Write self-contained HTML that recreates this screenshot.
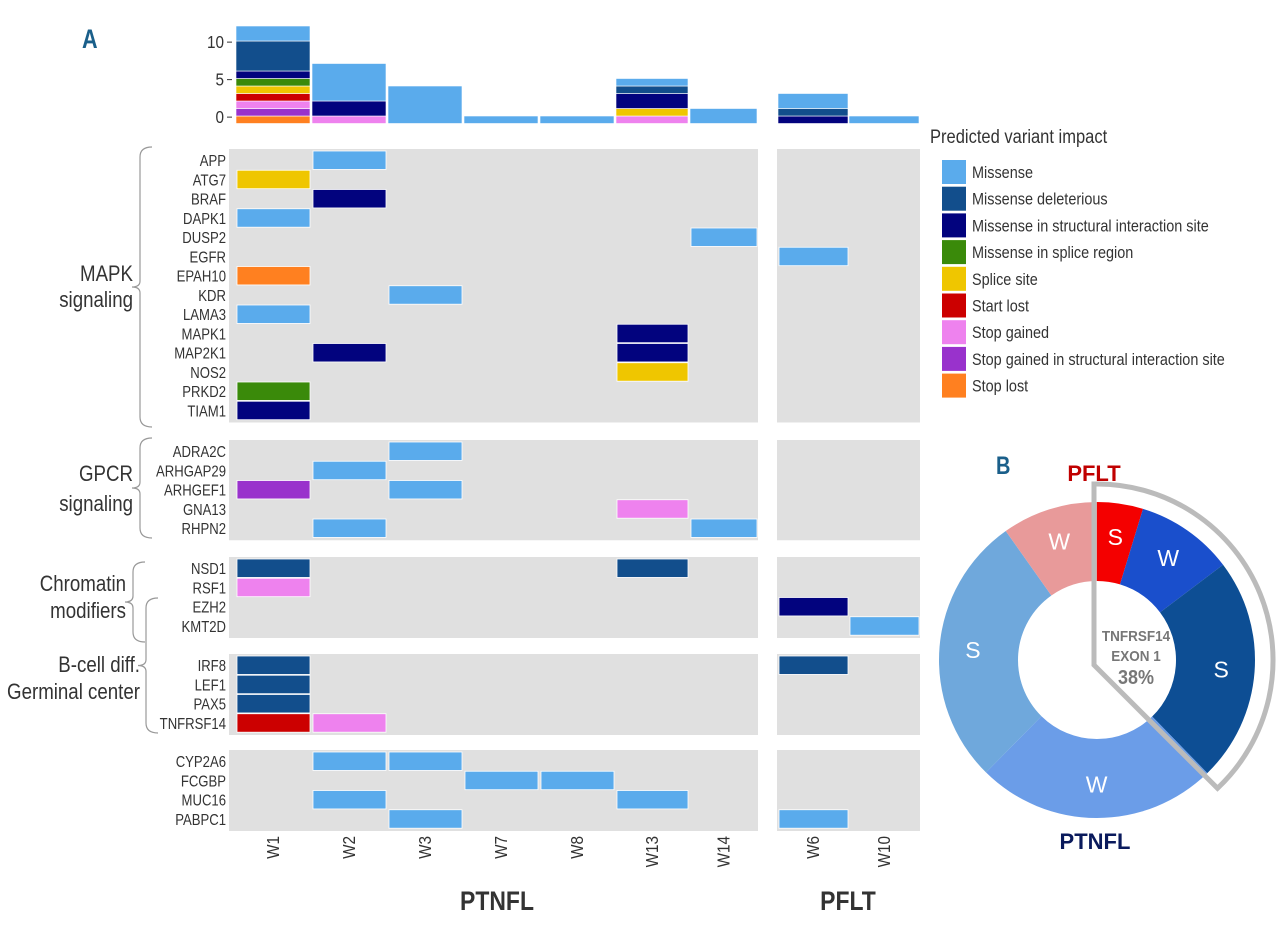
<!DOCTYPE html>
<html><head><meta charset="utf-8">
<style>
body{margin:0;background:#fff;width:1280px;height:927px;overflow:hidden;font-family:"Liberation Sans",sans-serif;}
svg{display:block}
</style></head>
<body>
<svg id="fig" width="1280" height="927" viewBox="0 0 1280 927" xmlns="http://www.w3.org/2000/svg"></svg>
<script>
const columns = ["W1","W2","W3","W7","W8","W13","W14","W6","W10"];
const impacts = ["Missense","Missense deleterious","Missense in structural interaction site","Missense in splice region","Splice site","Start lost","Stop gained","Stop gained in structural interaction site","Stop lost"];
const impactColors = ["#5aabec","#124e8c","#02037e","#3a8a0a","#efc600","#cc0000","#ee82ee","#9932cc","#ff8020"];
const stackOrder = [8,7,6,5,4,3,2,1,0];
const barCounts = {
  W1:[2,4,1,1,1,1,1,1,1],
  W2:[5,0,2,0,0,0,1,0,0],
  W3:[5,0,0,0,0,0,0,0,0],
  W7:[1,0,0,0,0,0,0,0,0],
  W8:[1,0,0,0,0,0,0,0,0],
  W13:[1,1,2,0,1,0,1,0,0],
  W14:[2,0,0,0,0,0,0,0,0],
  W6:[2,1,1,0,0,0,0,0,0],
  W10:[1,0,0,0,0,0,0,0,0]
};
const yTicks = [0,5,10];
const panels = [
  ["APP","ATG7","BRAF","DAPK1","DUSP2","EGFR","EPAH10","KDR","LAMA3","MAPK1","MAP2K1","NOS2","PRKD2","TIAM1"],
  ["ADRA2C","ARHGAP29","ARHGEF1","GNA13","RHPN2"],
  ["NSD1","RSF1","EZH2","KMT2D"],
  ["IRF8","LEF1","PAX5","TNFRSF14"],
  ["CYP2A6","FCGBP","MUC16","PABPC1"]
];
const tiles = [
 ["APP","W2",0],["ATG7","W1",4],["BRAF","W2",2],["DAPK1","W1",0],["DUSP2","W14",0],["EGFR","W6",0],
 ["EPAH10","W1",8],["KDR","W3",0],["LAMA3","W1",0],["MAPK1","W13",2],["MAP2K1","W2",2],["MAP2K1","W13",2],
 ["NOS2","W13",4],["PRKD2","W1",3],["TIAM1","W1",2],
 ["ADRA2C","W3",0],["ARHGAP29","W2",0],["ARHGEF1","W1",7],["ARHGEF1","W3",0],["GNA13","W13",6],["RHPN2","W2",0],["RHPN2","W14",0],
 ["NSD1","W1",1],["NSD1","W13",1],["RSF1","W1",6],["EZH2","W6",2],["KMT2D","W10",0],
 ["IRF8","W1",1],["IRF8","W6",1],["LEF1","W1",1],["PAX5","W1",1],["TNFRSF14","W1",5],["TNFRSF14","W2",6],
 ["CYP2A6","W2",0],["CYP2A6","W3",0],["FCGBP","W7",0],["FCGBP","W8",0],["MUC16","W2",0],["MUC16","W13",0],["PABPC1","W3",0],["PABPC1","W6",0]
];
const donutLabels = ["S","W","S","W","S","W"];
const donutValues = [4.7,10,23,24.7,27.8,9.8];
const donutColors = ["#f40000","#1a4fcc","#0d4e94","#6b9de8","#6fa8dc","#e89a9a"];

const NS="http://www.w3.org/2000/svg";
const svg=document.getElementById('fig');
function mk(tag,attrs,parent,text){const e=document.createElementNS(NS,tag);for(const k in attrs)e.setAttribute(k,attrs[k]);if(text!==undefined)e.textContent=text;(parent||svg).appendChild(e);return e;}
// narrow text: horizontally compressed
function ntext(x,y,anchor,size,str,sx,extra,rot){
  const tr = rot ? `translate(${x} ${y}) rotate(-90) scale(${sx} 1)` : `translate(${x} ${y}) scale(${sx} 1)`;
  const a=Object.assign({x:0,y:0,'text-anchor':anchor,'font-size':size,fill:'#333',transform:tr},extra||{});
  return mk('text',a,svg,str);
}

const colX={W1:236,W2:312,W3:388,W7:464,W8:540,W13:616,W14:690,W6:778,W10:849};
const colW={W1:74,W2:74,W3:74,W7:74,W8:74,W13:72,W14:67,W6:70,W10:70};
const base=123.5, unit=7.5;
function yb(v){return base-v*unit;}

yTicks.forEach(t=>{
  const y=yb(t+0.85);
  const tl=ntext(224,y+6,'end',18,String(t),0.85);
  
  
  const tk=mk('line',{x1:227,x2:232,y1:y,y2:y,stroke:'#333','stroke-width':1});
  
  
});
columns.forEach(c=>{
  let acc=0;
  stackOrder.forEach(i=>{
    const v=barCounts[c][i]; if(!v)return;
    const r=mk('rect',{x:colX[c],y:yb(acc+v),width:colW[c],height:v*unit,fill:impactColors[i],stroke:'#fff','stroke-width':0.6});
    
    
    acc+=v;
  });
});

const rowH=19.25;
const panelTop=[149,440,557,654,750];
panels.forEach((genes,pi)=>{
  const top=panelTop[pi], h=genes.length*rowH+4;
  const b1=mk('rect',{x:229,y:top,width:529,height:h,fill:'#e0e0e0'});
  
  
  const b2=mk('rect',{x:777,y:top,width:143,height:h,fill:'#e0e0e0'});
  
  
  genes.forEach((g,gi)=>{
    const t=ntext(226,top+2+gi*rowH+15,'end',16,g,0.82);
    
    
  });
});
function geneY(g){for(let pi=0;pi<panels.length;pi++){const i=panels[pi].indexOf(g);if(i>=0)return panelTop[pi]+2+i*rowH;}return 0;}
tiles.forEach(([g,c,i])=>{
  const r=mk('rect',{x:colX[c]+1,y:geneY(g),width:colW[c]-1,height:rowH-0.8,fill:impactColors[i],stroke:'#fff','stroke-width':0.8});
  
  
});

columns.forEach(c=>{
  const cx=colX[c]+colW[c]/2+6;
  const t=ntext(cx,836,'end',18,c,0.85,{},true);
  
  
});
[["PTNFL",497],["PFLT",848]].forEach(([s,x])=>{
  const t=ntext(x,910,'middle',27,s,0.85,{'font-weight':'bold'});
  
  
});

function brace(x,y1,y2,name){
  const m=(y1+y2)/2;
  const p=mk('path',{d:`M${x+14},${y1} Q${x+2},${y1} ${x+2},${y1+10} L${x+2},${m-6} Q${x+2},${m} ${x-6},${m} Q${x+2},${m} ${x+2},${m+6} L${x+2},${y2-10} Q${x+2},${y2} ${x+14},${y2}`,fill:'none',stroke:'#999','stroke-width':1.2});
  
  
}
brace(138,147,427,'brace-mapk');
brace(138,438,538,'brace-gpcr');
brace(131,562,642,'brace-chromatin');
brace(144,598,733,'brace-bcell');
[["MAPK",133,281],["signaling",133,307],["GPCR",133,481],["signaling",133,511],["Chromatin",126,591],["modifiers",126,618],["B-cell diff.",140,672],["Germinal center",140,699]].forEach(([s,x,y],i)=>{
  const t=ntext(x,y,'end',22,s,0.85);
  
  
});

const A=ntext(82,48,'start',27,'A',0.8,{'font-weight':'bold',fill:'#1a5f8a'});

const B=ntext(996,474,'start',25,'B',0.8,{'font-weight':'bold',fill:'#1a5f8a'});


const lt=ntext(930,143,'start',19,'Predicted variant impact',0.87);

impacts.forEach((s,i)=>{
  const y=160+i*26.7;
  const r=mk('rect',{x:942,y:y,width:24,height:24,fill:impactColors[i]});
  
  
  const t=ntext(972,y+18,'start',17,s,0.85);
  
  
});

const cx=1097,cy=660,R=158,r0=79;
const total=donutValues.reduce((a,b)=>a+b,0);
let ang=0;
function pt(a,rad){const t=(a-90)*Math.PI/180;return [cx+rad*Math.cos(t),cy+rad*Math.sin(t)];}
donutValues.forEach((v,i)=>{
  const a0=ang,a1=ang+v/total*360;ang=a1;
  const [x0,y0]=pt(a0,R),[x1,y1]=pt(a1,R),[x2,y2]=pt(a1,r0),[x3,y3]=pt(a0,r0);
  const lg=(a1-a0)>180?1:0;
  const p=mk('path',{d:`M${x0},${y0} A${R},${R} 0 ${lg} 1 ${x1},${y1} L${x2},${y2} A${r0},${r0} 0 ${lg} 0 ${x3},${y3}Z`,fill:donutColors[i]});
  
  
  const [lx,ly]=pt((a0+a1)/2,(R+r0)/2+6);
  const t=mk('text',{x:lx,y:ly+8,'text-anchor':'middle','font-size':23,fill:'#fff'},svg,donutLabels[i]);
  
  
});
{
  const Ro=176, aEnd=0.38*360;
  const [sx,sy]=pt(0,Ro),[ex,ey]=pt(aEnd,Ro);
  const o=mk('path',{d:`M${cx-3},${cy+5} L${sx-3},${sy} A${Ro},${Ro} 0 0 1 ${ex},${ey} Z`,fill:'none',stroke:'#bbb','stroke-width':5,'stroke-linejoin':'miter'});
  
  
}
[["TNFRSF14",641,15],["EXON 1",661,15],["38%",684,20]].forEach(([s,y,fs],i)=>{
  const t=ntext(1136,y,'middle',fs,s,0.9,{'font-weight':'bold',fill:'#777'});
  
  
});
const pf=mk('text',{x:1094,y:481,'text-anchor':'middle','font-size':22,'font-weight':'bold',fill:'#c00000'},svg,'PFLT');

const pt2=mk('text',{x:1095,y:849,'text-anchor':'middle','font-size':22,'font-weight':'bold',fill:'#0a1a5c'},svg,'PTNFL');

</script>
</body></html>
